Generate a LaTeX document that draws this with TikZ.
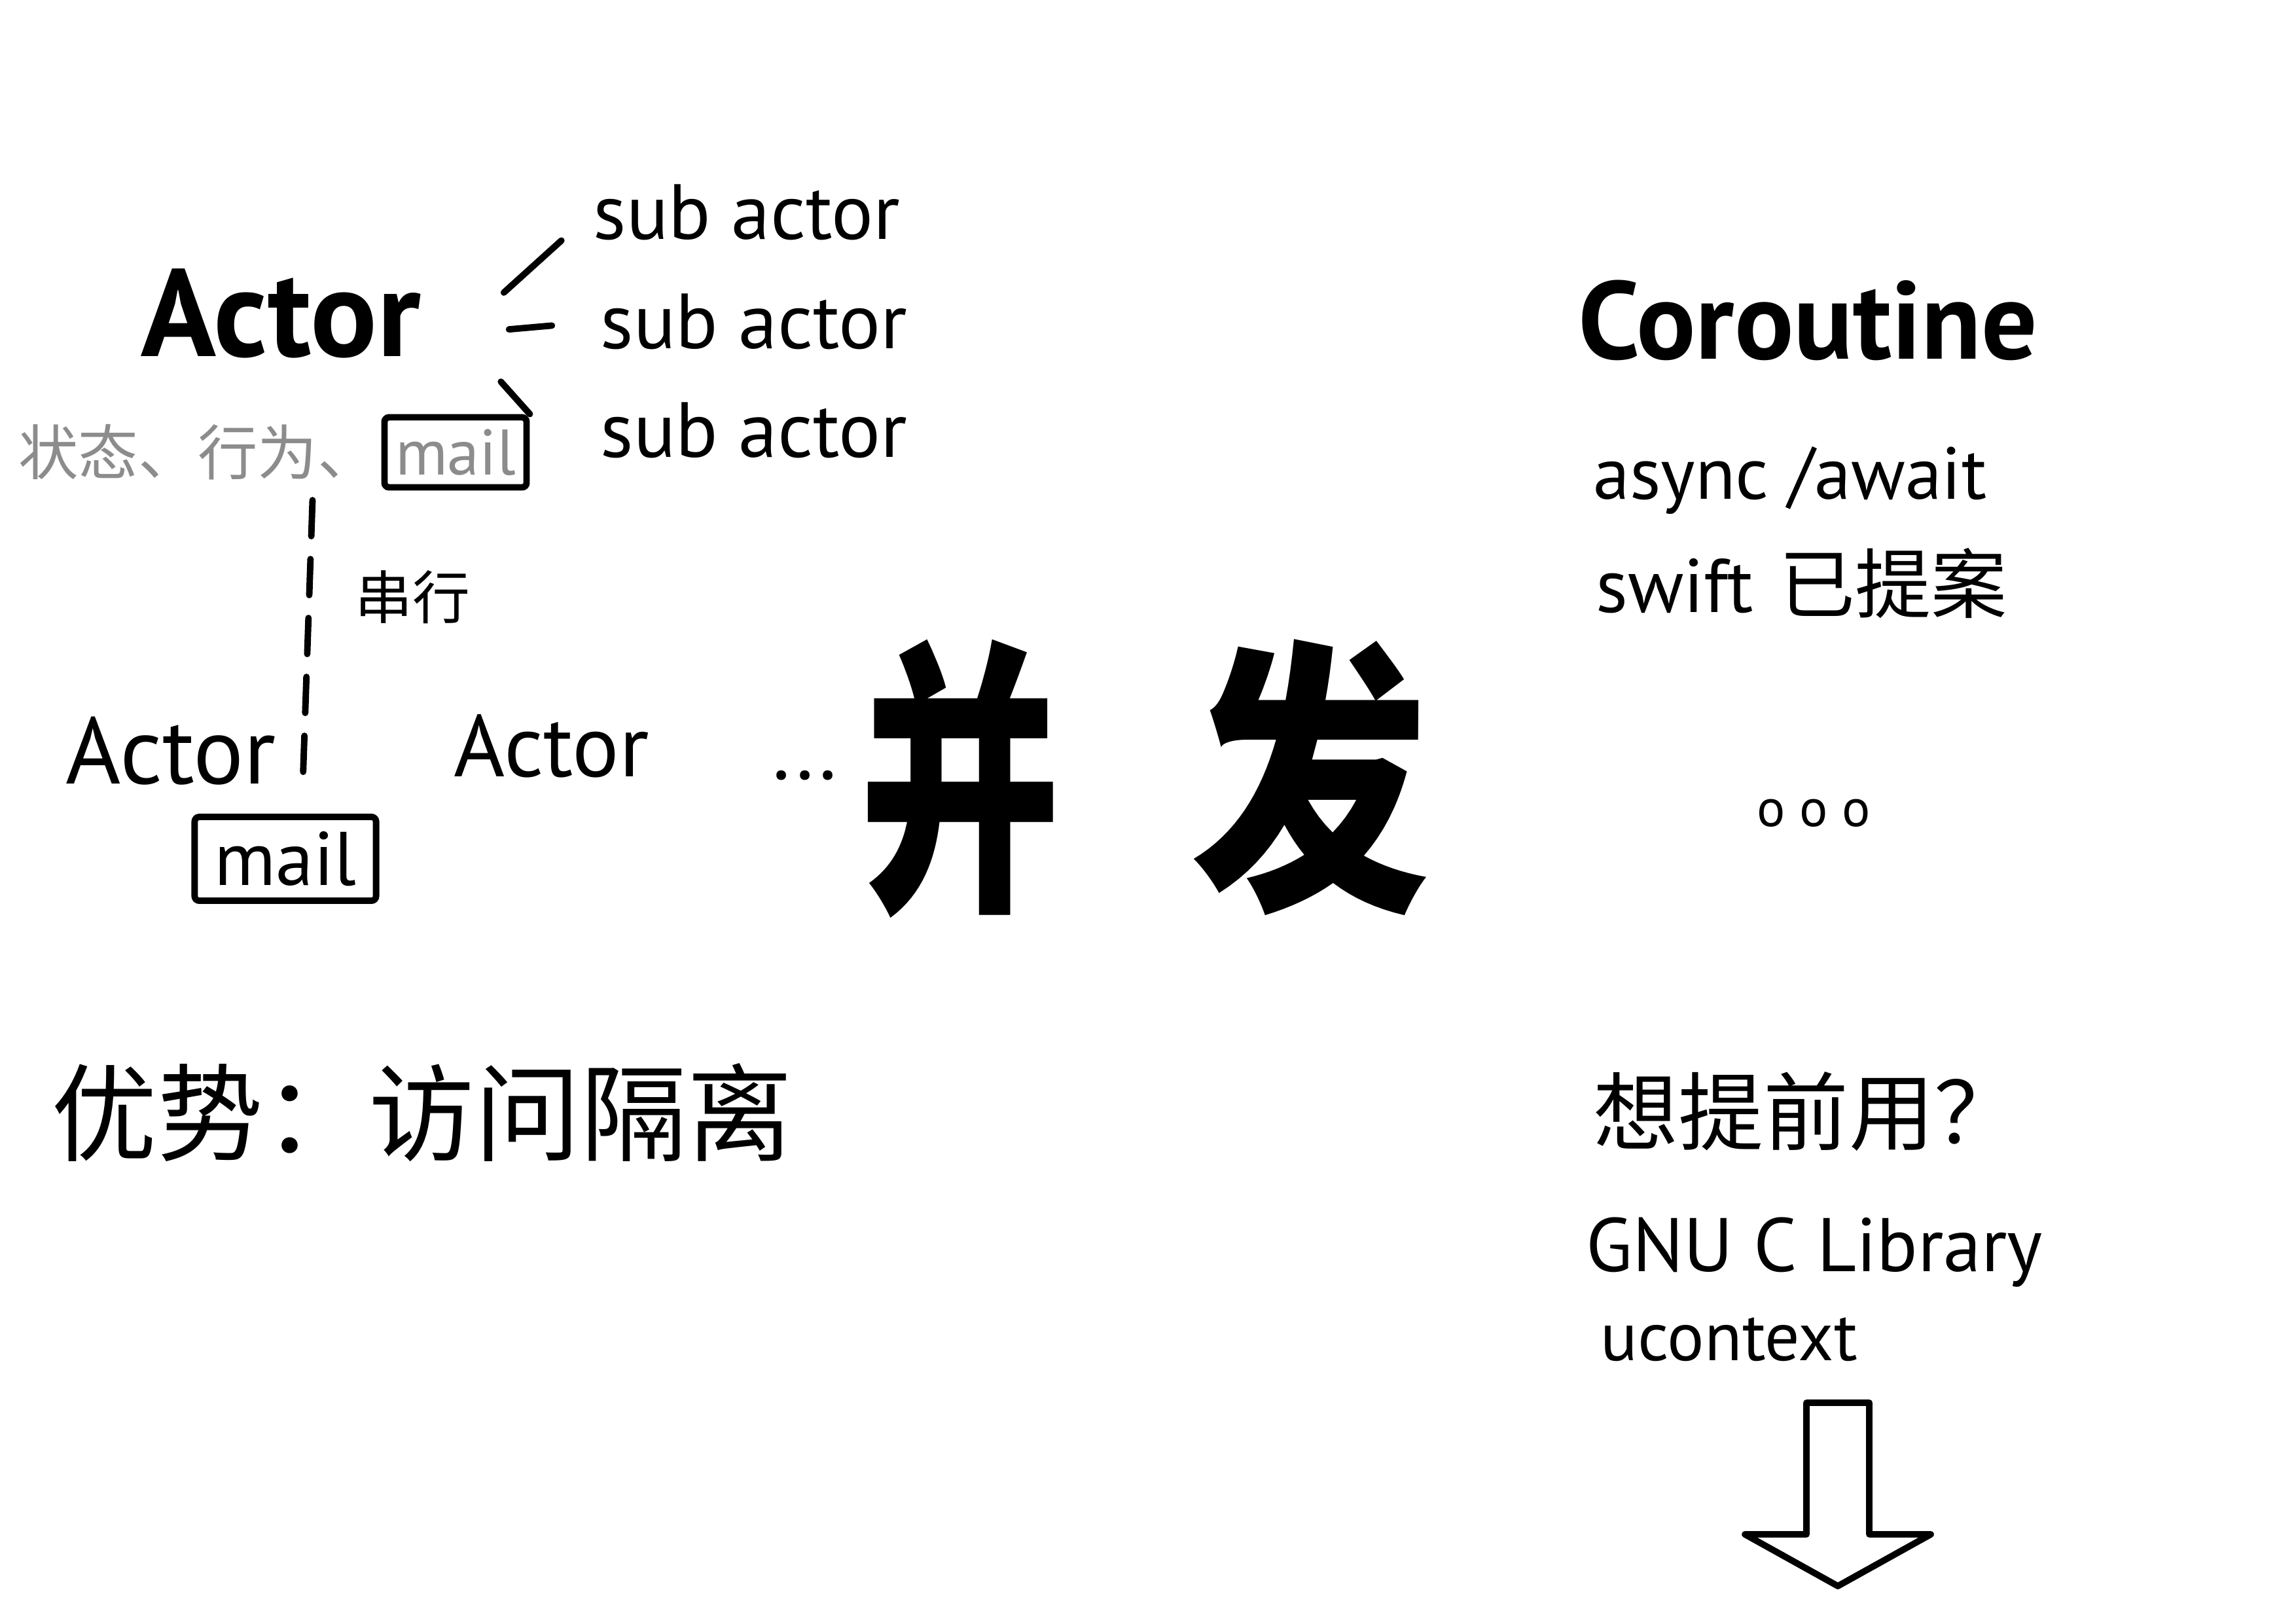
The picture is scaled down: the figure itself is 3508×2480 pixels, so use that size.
\documentclass[tikz,border=0pt]{standalone}
\usepackage{fontspec}
\setmainfont{PT Sans}
\newfontfamily\cjk{Noto Sans CJK SC}
\usetikzlibrary{positioning,calc}
\definecolor{pencil}{gray}{0.55}
\newcommand{\fsz}[1]{\fontsize{#1}{#1}\selectfont}

\begin{document}
\begin{tikzpicture}[x=0.01cm,y=-0.01cm]
\tikzstyle{every node}=[inner sep=0pt];
\tikzstyle{stroke}=[line width=2.8pt, line cap=round, line join=round];
\tikzstyle{mailbox}=[draw, line width=2.8pt, rounded corners=2pt];

\useasboundingbox (0,0) rectangle (3508,2480);

% actor and its parts
\node[font=\fsz{54}\bfseries, anchor=base west] (actor) at (215,544) {Actor};
\coordinate (fork) at (700,510);
\node[font=\fsz{34}, anchor=base west] (sub1) at (906,365) {sub actor};
\node[font=\fsz{34}, anchor=base west] (sub2) at (917,532) {sub actor};
\node[font=\fsz{34}, anchor=base west] (sub3) at (917,698) {sub actor};
\node[mailbox, minimum width=2.17cm, minimum height=1.07cm, text=pencil, font=\fsz{28}] (mailtop) at (696,691) {mail};
\node[left=0.05cm of mailtop, text=pencil, font=\cjk\fsz{26}] (state) {状态、行为、};
\draw[stroke, shorten <=0.94cm, shorten >=0.65cm] (fork) -- (sub1.west);
\draw[stroke, shorten <=0.78cm, shorten >=0.74cm] (fork) -- (sub2.west);
\draw[stroke, shorten <=0.98cm] (fork) -- (mailtop.north east);

% actors in a row
\node[font=\fsz{41}, anchor=base west] (actor1) at (100,1197) {Actor};
\node[font=\fsz{38}, anchor=base west] (actor2) at (693,1186) {Actor};
\node[font=\fsz{36}, anchor=base west] (more) at (1180,1190) {...};
\node[mailbox, minimum width=2.77cm, minimum height=1.28cm, font=\fsz{33}] (mailbot) at (436,1312) {mail};
\draw[stroke, dash pattern=on 0.55cm off 0.35cm, shorten <=0.3cm, shorten >=0.3cm]
  ($(state.south west)!0.82!(state.south east)$) -- ([xshift=0.25cm]mailbot.north)
  node[pos=0.35, right=0.65cm, font=\cjk\fsz{25}] (serial) {串行};
\node[font=\cjk\fsz{46}, anchor=west] (gain) at (78,1700) {优势：访问隔离};

% centre
\node[font=\cjk\bfseries\fsz{125}] (concur) at (1749,1190)
  {\scalebox{0.7}[1]{并}\hspace{1.98cm}\scalebox{0.83}[1]{发}};

% coroutine
\node[font=\fsz{48}\bfseries, anchor=base west] (coro) at (2411,548) {Coroutine};
\node[font=\fsz{32}, anchor=base west] (async) at (2434,762) {async /await};
\node[font=\fsz{33}, anchor=base west] (swift) at (2438,935) {swift\hspace{0.4cm}{\cjk 已提案}};
\node[font=\fsz{23}, anchor=base west] (dots) at (2684,1262) {o o o};
\node[font=\cjk\fsz{37}, anchor=west] (early) at (2434,1698) {想提前用？};
\node[font=\fsz{33}, anchor=base west] (glibc) at (2423,1942) {GNU C Library};
\node[font=\fsz{30}, anchor=base west] (ucontext) at (2445,2078) {ucontext};
\draw[stroke] (2760,2143) -- (2856,2143) -- (2856,2344) -- (2950,2344)
  -- (2808,2423) -- (2666,2344) -- (2760,2344) -- cycle;
\end{tikzpicture}
\end{document}
